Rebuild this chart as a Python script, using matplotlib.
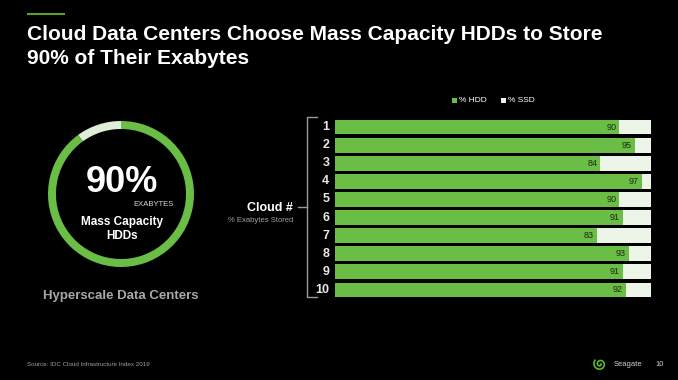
import matplotlib
matplotlib.use("Agg")
import matplotlib.pyplot as plt
from matplotlib.patches import Wedge, Rectangle
import numpy as np

plt.rcParams['font.family'] = ['Liberation Sans', 'DejaVu Sans']

clouds = ["1", "2", "3", "4", "5", "6", "7", "8", "9", "10"]
hdd = [90, 95, 84, 97, 90, 91, 83, 93, 91, 92]
ssd = [100 - v for v in hdd]
overall_hdd = 90

GREEN = "#6abd45"
LIGHT = "#edf5e8"
BG = "black"
W, H = 678, 380

fig = plt.figure(figsize=(W / 100, H / 100), dpi=100, facecolor=BG)

def fx(px):
    return px / W

def fy(py):
    return 1 - py / H

# overlay axes in pixel coords
ov = fig.add_axes([0, 0, 1, 1])
ov.set_xlim(0, W)
ov.set_ylim(H, 0)
ov.axis("off")
ov.set_facecolor(BG)

# title
ov.plot([27, 65], [14, 14], color="#5a9e2f", lw=1.5, solid_capstyle="butt")
ov.text(27, 34, "Cloud Data Centers Choose Mass Capacity HDDs to Store",
        color="white", fontsize=15, fontweight="bold", va="center", ha="left")
ov.text(27, 58, "90% of Their Exabytes",
        color="white", fontsize=15, fontweight="bold", va="center", ha="left")

# ring
ring_ax = fig.add_axes([fx(121 - 80), fy(194 + 80), 160 / W, 160 / H])
ring_ax.set_xlim(-80, 80)
ring_ax.set_ylim(-80, 80)
ring_ax.set_aspect("equal")
ring_ax.axis("off")
r_out, width = 73, 8
start = 90 + 360 * (100 - overall_hdd) / 100
ring_ax.add_patch(Wedge((0, 0), r_out, 90, start, width=width, color="#dfeed6", lw=0))
ring_ax.add_patch(Wedge((0, 0), r_out, 90 - 360 * overall_hdd / 100, 90, width=width, color=GREEN, lw=0))

ov.text(122, 183, f"{overall_hdd}%", color="white", fontsize=26, fontweight="bold",
        ha="center", va="center")
ov.text(153, 205, "EXABYTES", color="#d8d8d8", fontsize=5.5, ha="center", va="center")
ov.text(122, 222, "Mass Capacity", color="white", fontsize=8.5, fontweight="bold",
        ha="center", va="center")
ov.text(122, 236, "HDDs", color="white", fontsize=8.5, fontweight="bold",
        ha="center", va="center")
ov.text(121, 296, "Hyperscale Data Centers", color="#a8a8a8", fontsize=9.5,
        fontweight="bold", ha="center", va="center")

# cloud label and bracket
ov.text(293, 208, "Cloud #", color="white", fontsize=9, fontweight="bold",
        ha="right", va="center")
ov.text(293, 221, "% Exabytes Stored", color="#a0a0a0", fontsize=5.5,
        ha="right", va="center")
ov.plot([317, 307, 307, 317], [117, 117, 297, 297], color="#9a9a9a", lw=1)
ov.plot([298, 307], [207, 207], color="#9a9a9a", lw=1)

# legend
ov.add_patch(Rectangle((452, 98), 5, 5, color=GREEN, lw=0))
ov.text(459, 101, "% HDD", color="white", fontsize=6, va="center", ha="left")
ov.add_patch(Rectangle((501, 98), 5, 5, color=LIGHT, lw=0))
ov.text(508, 101, "% SSD", color="white", fontsize=6, va="center", ha="left")

# footer
ov.text(27, 364, "Source: IDC Cloud Infrastructure Index 2019", color="#a0a0a0",
        fontsize=4.5, va="center", ha="left")
t = np.linspace(0, 2 * np.pi * 1.6, 80)
rr = 1 + t * 0.6
ov.plot(600 + rr * np.cos(t) * 0.9, 364 + rr * np.sin(t) * 0.9, color="#5cb82e", lw=1.2)
ov.text(614, 364, "Seagate", color="#d0d0d0", fontsize=5.5, va="center", ha="left")
ov.text(655, 364, "10", color="#d0d0d0", fontsize=5.5, va="center", ha="left")

# bar chart
top_px, bot_px = 118, 299
bx = fig.add_axes([fx(335), fy(bot_px), (651 - 335) / W, (bot_px - top_px) / H])
bx.set_facecolor("none")
y = np.arange(1, len(clouds) + 1)
bx.barh(y, hdd, height=0.82, color=GREEN, edgecolor="none")
bx.barh(y, ssd, left=hdd, height=0.82, color=LIGHT, edgecolor="none")
bx.set_xlim(0, 100)
bx.set_ylim(len(clouds) + 0.5, 0.5)
bx.axis("off")
for yi, v in zip(y, hdd):
    bx.text(v - 1, yi, str(v), color="#1b2a12", fontsize=6.5, ha="right", va="center")
for yi, c in zip(y, clouds):
    bx.text(-1.8, yi, c, color="#e8e8e8", fontsize=9, ha="right", va="center",
            fontweight="bold")

fig.savefig("out.png", dpi=100, facecolor=BG)
